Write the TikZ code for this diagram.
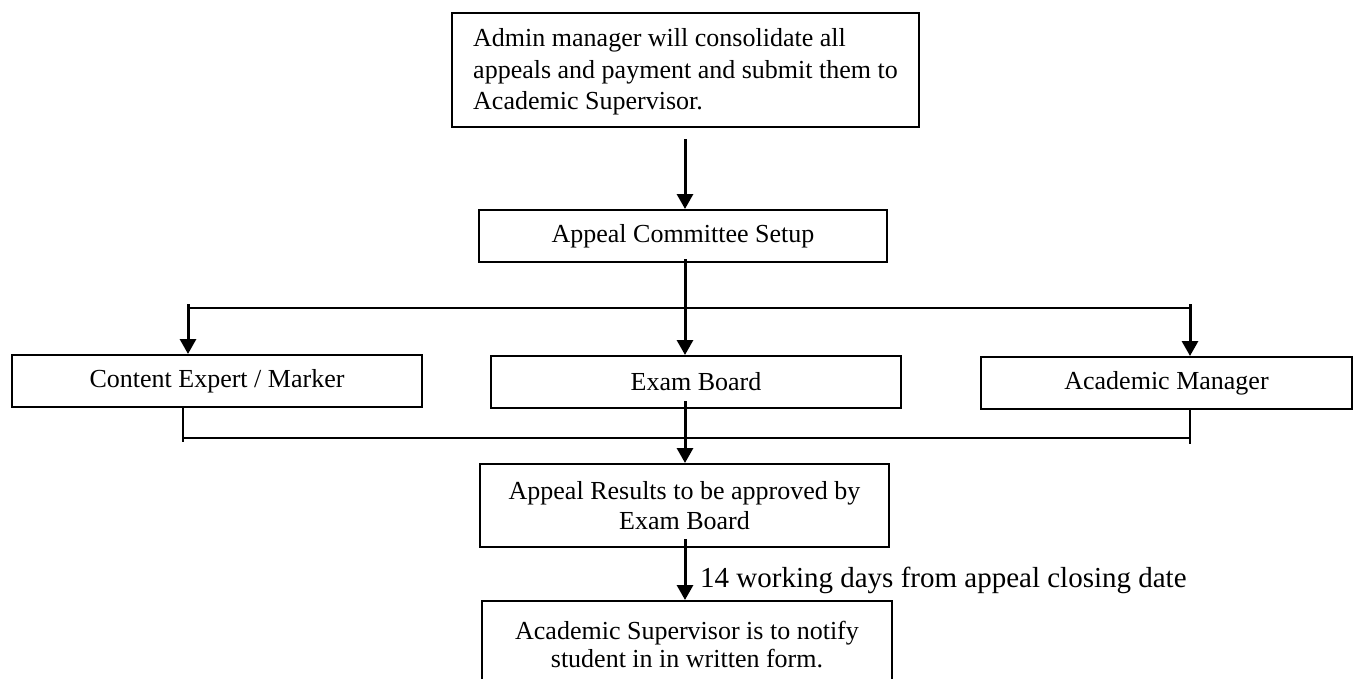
\documentclass[tikz,border=0pt]{standalone}
\usepackage{fontspec}
\setmainfont{Liberation Serif}
\usetikzlibrary{arrows.meta,calc}
\tikzset{
  box/.style={draw, line width=2pt, inner sep=0pt, align=center,
    font=\fontsize{26}{30}\selectfont},
  conn/.style={line width=2.4pt},
  arr/.style={line width=3pt, -{Triangle[length=15pt,width=16pt]}},
}
\begin{document}
\begin{tikzpicture}[x=1pt,y=-1pt]
\useasboundingbox (0,0) rectangle (1354,678);
\fill[white] (0,0) rectangle (1354,678);
\clip (0,0) rectangle (1354,678);
\coordinate (cx) at (685,0);
\node[box, minimum width=467pt, minimum height=114pt, align=left,
  font=\fontsize{26}{31.5}\selectfont] (top) at (685.5,70)
  {\rule{0pt}{22pt}Admin manager will consolidate all\\appeals and payment and submit them to\\Academic Supervisor.};
\node[box, minimum width=408pt, minimum height=52pt] (committee) at (683,236) {Appeal Committee Setup};
\node[box, minimum width=410pt, minimum height=52pt] (content) at (217,381) {Content Expert / Marker};
\node[box, minimum width=410pt, minimum height=52pt] (exam) at (696,382) {Exam Board};
\node[box, minimum width=371pt, minimum height=52pt] (acmgr) at (1166.5,383) {Academic Manager};
\node[box, minimum width=409pt, minimum height=83pt] (results) at (684.5,505.5) {Appeal Results to be approved by\\Exam Board};
\node[box, minimum width=410pt, minimum height=87pt, font=\fontsize{26}{28}\selectfont] (bottom) at (687,644.5) {Academic Supervisor is to notify\\student in in written form.};
\node[anchor=base west, inner sep=0pt, font=\fontsize{29}{34}\selectfont] (label) at (700,587) {14 working days from appeal closing date};
% top -> committee
\draw[arr] ($(top.south -| cx)+(0,11)$) -- (committee.north -| cx);
% committee -> exam
\draw[arr] ($(committee.south -| cx)+(0,-4)$) -- (exam.north -| cx);
% branch
\coordinate (bl) at (188,308);
\coordinate (br) at (1190,308);
\draw[conn] (bl) -- (br);
\draw[arr] ($(bl)+(0,-4)$) -- (bl |- content.north);
\draw[arr] ($(br)+(0,-4)$) -- (br |- acmgr.north);
% converge
\coordinate (cl) at (183,438);
\coordinate (cr) at (1190,438);
\draw[conn] (cl) -- (cr);
\draw[conn] ($(content.south -| cl)+(0,-2)$) -- ($(cl)+(0,4)$);
\draw[conn] ($(acmgr.south -| cr)+(0,-2)$) -- ($(cr)+(0,6)$);
% exam -> results
\draw[arr] ($(exam.south -| cx)+(0,-8)$) -- (results.north -| cx);
% results -> bottom
\draw[arr] ($(results.south -| cx)+(0,-9)$) -- (bottom.north -| cx);
\end{tikzpicture}
\end{document}
